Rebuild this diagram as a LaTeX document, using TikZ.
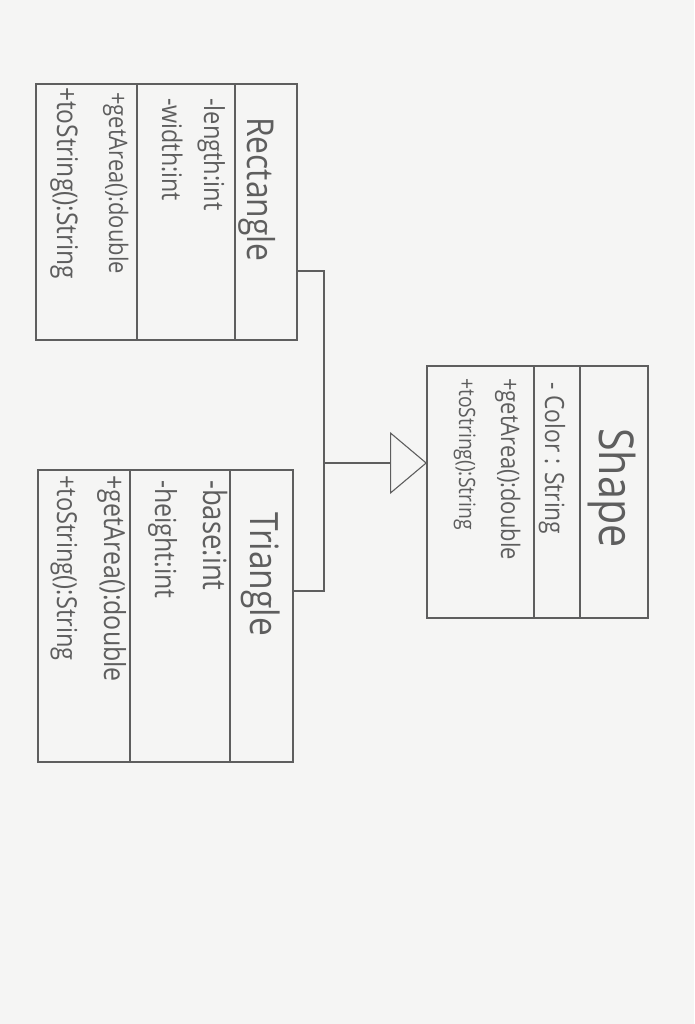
\documentclass[tikz,border=0pt]{standalone}
\usepackage{fontspec}
\setmainfont{Open Sans}
\usetikzlibrary{arrows.meta}
\definecolor{pencil}{HTML}{5E5E5E}
\definecolor{paper}{HTML}{F5F5F4}
\newcommand{\hw}[2]{\scalebox{0.86}[1]{\fontsize{#1}{#1}\selectfont #2}}
\begin{document}
\begin{tikzpicture}[x=1pt,y=-1pt,
  classbox/.style={draw=pencil, line width=1.2pt, rectangle, inner sep=0pt, outer sep=0pt},
  divider/.style={draw=pencil, line width=1.1pt},
  wire/.style={draw=pencil, line width=1.1pt},
  txt/.style={anchor=base west, rotate=-90, text=pencil, inner sep=0pt},
  ]
\fill[paper] (0,0) rectangle (694,1024);
\useasboundingbox (0,0) rectangle (694,1024);

% Rectangle class
\node[classbox, minimum width=261pt, minimum height=256pt] (rect) at (166.5,212) {};
\draw[divider] (137,84) -- (137,340);
\draw[divider] (235,84) -- (235,340);
\node[txt] (rtitle) at (247,117) {\hw{37}{Rectangle}};
\node[txt] (ra1) at (204,98) {\hw{27.5}{-length:int}};
\node[txt] (ra2) at (162,98) {\hw{27}{-width:int}};
\node[txt] (rm1) at (109,92) {\hw{25.5}{+getArea():double}};
\node[txt] (rm2) at (57,87) {\hw{28.5}{+toString():String}};

% Triangle class
\node[classbox, minimum width=255pt, minimum height=292pt] (tri) at (165.5,616) {};
\draw[divider] (130,470) -- (130,762);
\draw[divider] (230,470) -- (230,762);
\node[txt] (ttitle) at (250,512) {\hw{39}{Triangle}};
\node[txt] (ta1) at (203,480) {\hw{32}{-base:int}};
\node[txt] (ta2) at (155,480) {\hw{29}{-height:int}};
\node[txt] (tm1) at (104,475) {\hw{29}{+getArea():double}};
\node[txt] (tm2) at (57,475) {\hw{27.5}{+toString():String}};

% Shape class
\node[classbox, minimum width=221pt, minimum height=252pt] (shape) at (537.5,492) {};
\draw[divider] (534,366) -- (534,618);
\draw[divider] (580,366) -- (580,618);
\node[txt] (stitle) at (599,428) {\hw{48}{Shape}};
\node[txt] (sa1) at (545,382) {\hw{26.5}{- Color : String}};
\node[txt] (sm1) at (501,378) {\hw{25.5}{+getArea():double}};
\node[txt] (sm2) at (459,378) {\hw{22.5}{+toString():String}};

% Generalisation connectors
\coordinate (rp) at (297,271);
\coordinate (tp) at (293,591);
\coordinate (j1) at (324,271);
\coordinate (j2) at (324,591);
\coordinate (jm) at (324,463);
\coordinate (sp) at (427,463);
\draw[wire] (rp) -- (j1) -- (j2) -- (tp);
\draw[wire, -{Triangle[open, length=37pt, width=62pt]}] (jm) -- (sp);
\end{tikzpicture}
\end{document}
